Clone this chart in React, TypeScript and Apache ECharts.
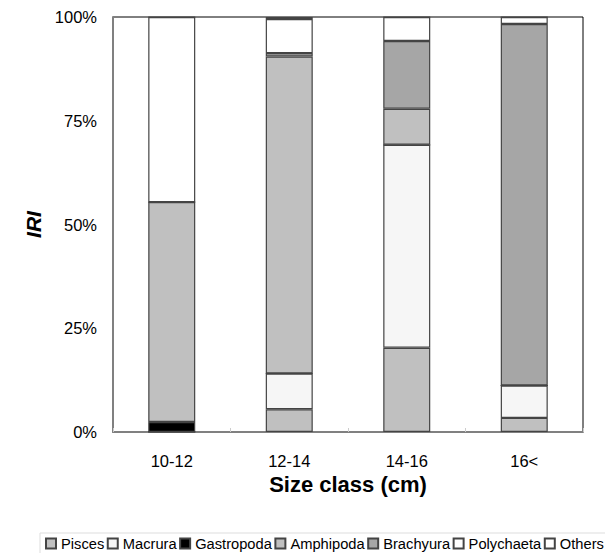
import React, { useEffect, useRef } from "react";
import * as echarts from "echarts";

const categories = ["10-12", "12-14", "14-16", "16<"];
const seriesNames = ["Pisces", "Macrura", "Gastropoda", "Amphipoda", "Brachyura", "Polychaeta", "Others"];
const pisces = [0, 5.5, 20.3, 3.4];
const macrura = [0, 8.6, 48.9, 7.8];
const gastropoda = [2.4, 0, 0, 0];
const amphipoda = [53.0, 76.4, 8.7, 0];
const brachyura = [0, 0.8, 16.3, 87.1];
const polychaeta = [44.6, 8.2, 5.8, 1.7];
const others = [0, 0.5, 0, 0];
const yTicks = [0, 25, 50, 75, 100];

const seriesData = [pisces, macrura, gastropoda, amphipoda, brachyura, polychaeta, others];
const seriesColors = ["#c0c0c0", "#f6f6f6", "#000000", "#c0c0c0", "#a6a6a6", "#ffffff", "#ffffff"];

export default function App() {
  const ref = useRef<HTMLDivElement>(null);
  useEffect(() => {
    if (!ref.current) return;
    const chart = echarts.init(ref.current, null, { renderer: "svg" });
    const font = "'Liberation Sans', Arial, sans-serif";
    chart.setOption({
      animation: false,
      backgroundColor: "#ffffff",
      textStyle: { fontFamily: font },
      grid: {
        left: 113,
        top: 17,
        width: 470,
        height: 415,
        show: true,
        borderColor: "#000",
        borderWidth: 1,
        backgroundColor: "transparent",
      },
      legend: {
        data: seriesNames,
        left: 40,
        top: 533,
        width: 600,
        padding: [3, 5],
        itemWidth: 10,
        itemHeight: 10,
        itemGap: 2.5,
        icon: "rect",
        textStyle: { fontFamily: font, fontSize: 14.7, color: "#000" },
      },
      graphic: [
        {
          type: "rect",
          shape: { x: 40, y: 533, width: 600, height: 40 },
          style: { fill: "none", stroke: "#ddd", lineWidth: 1 },
          silent: true,
          z: -1,
        },
      ],
      xAxis: {
        type: "category",
        data: categories,
        name: "Size class (cm)",
        nameLocation: "middle",
        nameGap: 41,
        nameTextStyle: { fontFamily: font, fontSize: 22, fontWeight: "bold", color: "#000" },
        axisLine: { lineStyle: { color: "#808080", width: 2 } },
        axisTick: { show: true, inside: true, length: 4, lineStyle: { color: "#ccc" } },
        axisLabel: { fontFamily: font, fontSize: 16.5, color: "#000", margin: 20 },
      },
      yAxis: {
        type: "value",
        min: 0,
        max: 100,
        interval: 25,
        name: "IRI",
        nameLocation: "middle",
        nameGap: 60,
        nameTextStyle: { fontFamily: font, fontSize: 21, fontWeight: "bold", fontStyle: "italic", color: "#000" },
        axisLine: { show: true, lineStyle: { color: "#808080", width: 2 } },
        axisTick: { show: false },
        splitLine: { show: false },
        axisLabel: {
          fontFamily: font,
          fontSize: 16.5,
          color: "#000",
          margin: 16,
          formatter: (v: number) => (yTicks.includes(v) ? v + "%" : ""),
        },
      },
      series: seriesNames.map((name, i) => ({
        name,
        type: "bar",
        stack: "total",
        barWidth: "40%",
        data: seriesData[i],
        itemStyle: { color: seriesColors[i], borderColor: "#444", borderWidth: 1.2 },
      })),
    });
    return () => chart.dispose();
  }, []);
  return <div ref={ref} style={{ width: 605, height: 553, position: "absolute", left: 0, top: 0 }} />;
}
